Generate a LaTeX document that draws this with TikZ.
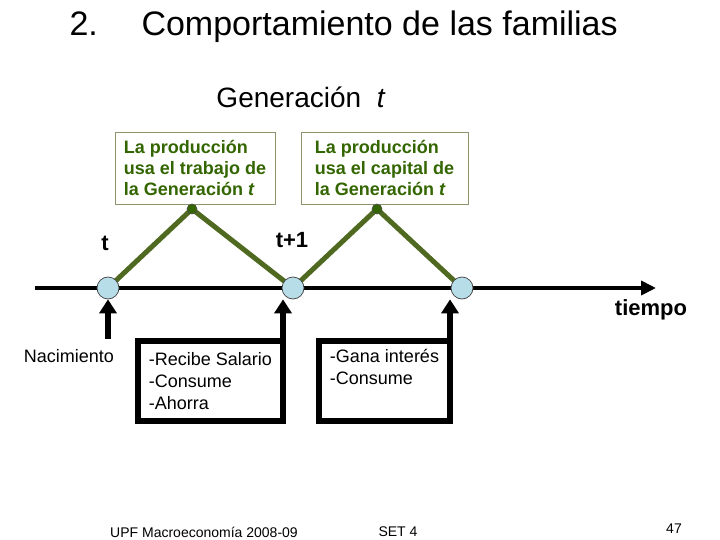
\documentclass[tikz,border=0pt]{standalone}
\usepackage{fontspec}
\setmainfont{Liberation Sans}
\usetikzlibrary{arrows.meta,positioning,calc,backgrounds}

\definecolor{prodgreen}{RGB}{51,102,0}
\definecolor{lifegreen}{RGB}{79,106,32}
\definecolor{frame}{RGB}{140,150,110}
\definecolor{genblue}{RGB}{183,221,232}

\begin{document}
\begin{tikzpicture}[
  x=1pt,y=-1pt,
  font=\fontsize{18}{22}\selectfont,
  prodbox/.style={draw=frame,line width=0.8pt,fill=white,align=left,
    text=prodgreen,font=\fontsize{18}{21}\selectfont\bfseries,
    minimum height=72pt,inner xsep=5pt},
  actbox/.style={draw,line width=6pt,outer sep=0pt,inner xsep=11pt,
    align=left,minimum height=80pt},
  gen/.style={circle,draw=black!75,fill=genblue,line width=0.7pt,
    minimum size=22pt,inner sep=0pt},
  peak/.style={circle,draw=black!70,fill=prodgreen,line width=0.6pt,
    minimum size=10pt,inner sep=0pt},
  life/.style={draw=lifegreen,line width=5pt,line join=round},
  timeline/.style={-{Triangle[length=15pt,width=14pt]},line width=4pt},
  uparr/.style={-{Triangle[length=14pt,width=17pt]},line width=6pt},
  lbl/.style={font=\fontsize{22}{26}\selectfont\bfseries},
  foot/.style={font=\fontsize{14}{16}\selectfont}
]
\useasboundingbox (0,0) rectangle (720,540);

% title
\node[anchor=base west,font=\fontsize{34}{40}\selectfont] (num) at (66,36) {2.};
\node[anchor=base west,font=\fontsize{34}{40}\selectfont] (title) at (138,36)
 {Comportamiento de las familias};
\node[anchor=base,font=\fontsize{28}{32}\selectfont] (gent) at (301,108)
 {Generación\ \ \textit{t}};

% production boxes
\node[prodbox,minimum width=160pt] (prod1) at (195,168)
 {La producción\\ usa el trabajo de\\ la Generación \textit{t}};
\node[prodbox,minimum width=167pt] (prod2) at (384.5,168)
 {La producción\\ usa el capital de\\ la Generación \textit{t}};

% generations on the time axis
\node[gen] (c1) at (108,288) {};
\node[gen] (c2) at (293,288) {};
\node[gen] (c3) at (462,288) {};
\node[peak] (p1) at (192,209) {};
\node[peak] (p2) at (377,209) {};
\coordinate (tstart) at (35,288);
\coordinate (tend) at (656,288);

\begin{scope}[on background layer]
\draw[timeline] (tstart) -- (tend);
\draw[life] (c1.center) -- (p1.center) -- (c2.center) -- (p2.center) -- (c3.center);
\end{scope}

\node[lbl] (tlab) at (105,243) {t};
\node[lbl] (t1lab) at (292,240) {t+1};
\node[lbl] (tiempo) at (651,310) {tiempo};

% what happens in each period
\node (nac) at (69,356) {Nacimiento};
\node[actbox,minimum width=145pt] (salario) at (210.5,381)
 {-Recibe Salario\\ -Consume\\ -Ahorra};
\node[actbox,minimum width=131pt] (interes) at (384.5,381)
 {-Gana interés\\ -Consume\\ \strut};
\draw[uparr] ([yshift=7pt]c1 |- nac.north) -- (c1.south);
\draw[uparr] (salario.north east) -- (salario.north east |- c2.south);
\draw[uparr] (interes.north east) -- (interes.north east |- c3.south);

% footer
\node[foot] (upf) at (204,532) {UPF Macroeconomía 2008-09};
\node[foot] (set) at (398,532) {SET 4};
\node[foot] (page) at (674,529) {47};
\end{tikzpicture}
\end{document}
